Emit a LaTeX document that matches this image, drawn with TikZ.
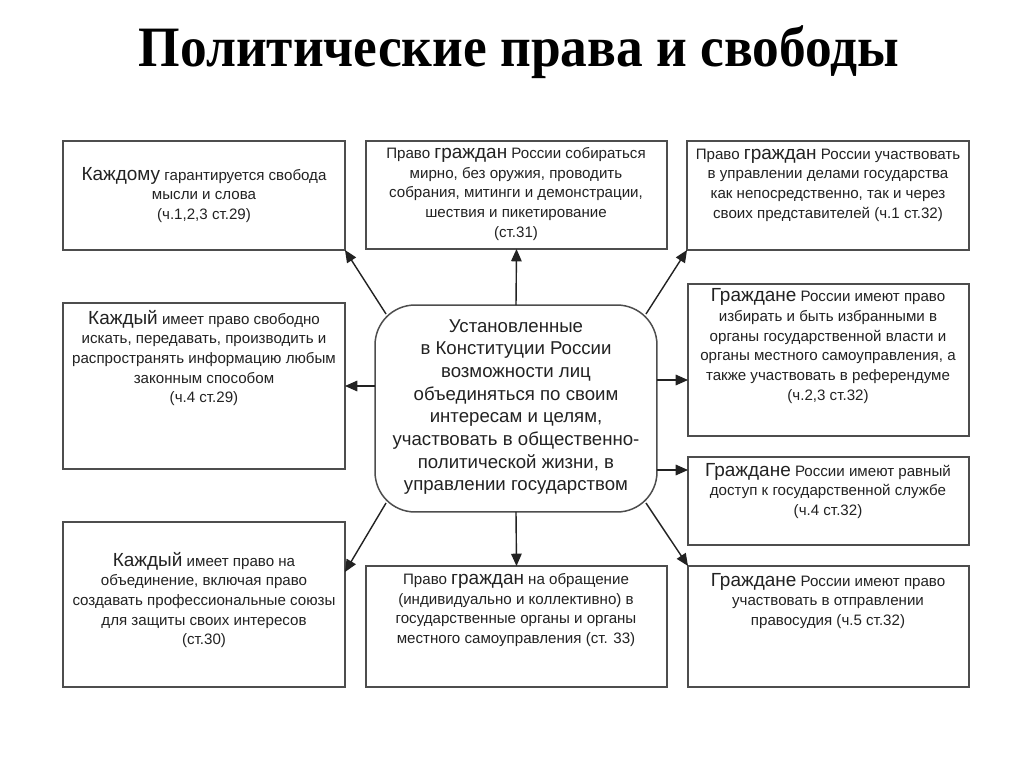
\documentclass[tikz,border=0pt]{standalone}
\usepackage{fontspec}
\setmainfont{Liberation Sans}
\newfontfamily\titlefont{Liberation Serif}
\usepackage{xcolor}
\usepackage{tikz}
\usetikzlibrary{calc,arrows.meta}
\definecolor{bg}{HTML}{FFFFFF}
\definecolor{ink}{HTML}{222222}
\definecolor{frame}{HTML}{4D4D4D}
\tikzset{
  boxFrame/.style={draw=frame, line width=0.85pt, fill=white, inner sep=0pt, outer sep=0pt},
  hubBox/.style={boxFrame, rounded corners=0.8cm},
  boxTxt/.style={text=ink, align=center, inner sep=0pt, font=\fontsize{8.6}{11.2}\selectfont},
  hubTxt/.style={text=ink, align=center, inner sep=0pt, font=\fontsize{10.6}{12.9}\selectfont},
  titleTxt/.style={text=black, font=\titlefont\bfseries\fontsize{32.5}{32.5}\selectfont},
  arrowLine/.style={draw=ink, line width=0.8pt, -{Triangle[length=7pt,width=6pt]}},
}
\newcommand{\KeyWord}[1]{{\fontsize{10.8}{11.2}\selectfont #1}}

\begin{document}
\begin{tikzpicture}[x=0.02cm, y=-0.02cm]
  \useasboundingbox[fill=bg] (0,0) rectangle (1024,767);

  \node[titleTxt, anchor=base] (title) at (519,67) {\scalebox{0.935}[1]{Политические права и свободы}};

  % boxes
  \node[boxFrame, minimum width=5.64cm, minimum height=2.18cm] (L1) at (204,195.5) {};
  \node[boxFrame, minimum width=6.02cm, minimum height=2.16cm] (T)  at (516.5,195) {};
  \node[boxFrame, minimum width=5.64cm, minimum height=2.18cm] (R1) at (828,195.5) {};
  \node[boxFrame, minimum width=5.64cm, minimum height=3.32cm] (L2) at (204,386) {};
  \node[hubBox,   minimum width=5.64cm, minimum height=4.14cm] (C)  at (516,408.5) {};
  \node[boxFrame, minimum width=5.62cm, minimum height=3.04cm] (R2) at (828.5,360) {};
  \node[boxFrame, minimum width=5.62cm, minimum height=1.76cm] (R3) at (828.5,501) {};
  \node[boxFrame, minimum width=5.64cm, minimum height=3.30cm] (L3) at (204,604.5) {};
  \node[boxFrame, minimum width=6.02cm, minimum height=2.42cm] (B)  at (516.5,626.5) {};
  \node[boxFrame, minimum width=5.62cm, minimum height=2.42cm] (R4) at (828.5,626.5) {};

  % texts
  \node[boxTxt] (L1txt) at (204,195) {\KeyWord{Каждому} гарантируется свобода\\ мысли и слова\\ (ч.1,2,3 ст.29)};
  \node[boxTxt] (Ttxt) at (516,194) {Право \KeyWord{граждан} России собираться\\ мирно, без оружия, проводить\\ собрания, митинги и демонстрации,\\ шествия и пикетирование\\ (ст.31)};
  \node[boxTxt] (R1txt) at (828,185) {Право \KeyWord{граждан} России участвовать\\ в управлении делами государства\\ как непосредственно, так и через\\ своих представителей (ч.1 ст.32)};
  \node[boxTxt] (L2txt) at (204,358) {\KeyWord{Каждый} имеет право свободно\\ искать, передавать, производить и\\ распространять информацию любым\\ законным способом\\ (ч.4 ст.29)};
  \node[hubTxt] (Ctxt) at (516,407) {Установленные\\ в Конституции России\\ возможности лиц\\ объединяться по своим\\ интересам и целям,\\ участвовать в общественно-\\ политической жизни, в\\ управлении государством};
  \node[boxTxt] (R2txt) at (828,346) {\KeyWord{Граждане} России имеют право\\ избирать и быть избранными в\\ органы государственной власти и\\ органы местного самоуправления, а\\ также участвовать в референдуме\\ (ч.2,3 ст.32)};
  \node[boxTxt] (R3txt) at (828,491) {\KeyWord{Граждане} России имеют равный\\ доступ к государственной службе\\ (ч.4 ст.32)};
  \node[boxTxt] (L3txt) at (204,600) {\KeyWord{Каждый} имеет право на\\ объединение, включая право\\ создавать профессиональные союзы\\ для защиты своих интересов\\ (ст.30)};
  \node[boxTxt] (Btxt) at (516,610) {Право \KeyWord{граждан} на обращение\\ (индивидуально и коллективно) в\\ государственные органы и органы\\ местного самоуправления (ст. 33)};
  \node[boxTxt] (R4txt) at (828,601) {\KeyWord{Граждане} России имеют право\\ участвовать в отправлении\\ правосудия (ч.5 ст.32)};

  % arrows from the hub
  \coordinate (r2in) at ($(R2.west)+(0,20)$);
  \coordinate (r3in) at ($(R3.west)+(0,-31)$);
  \coordinate (l3in) at ($(L3.north east)+(0,50)$);
  \draw[arrowLine] ($(C.north west)+(11,9)$) -- (L1.south east);
  \draw[arrowLine] (C.north) -- (T.south);
  \draw[arrowLine] ($(C.north east)+(-11,9)$) -- (R1.south west);
  \draw[arrowLine] (C.west |- L2.east) -- (L2.east);
  \draw[arrowLine] (C.east |- r2in) -- (r2in);
  \draw[arrowLine] (C.east |- r3in) -- (r3in);
  \draw[arrowLine] ($(C.south west)+(11,-9)$) -- (l3in);
  \draw[arrowLine] (C.south) -- (B.north);
  \draw[arrowLine] ($(C.south east)+(-11,-9)$) -- (R4.north west);
\end{tikzpicture}
\end{document}
